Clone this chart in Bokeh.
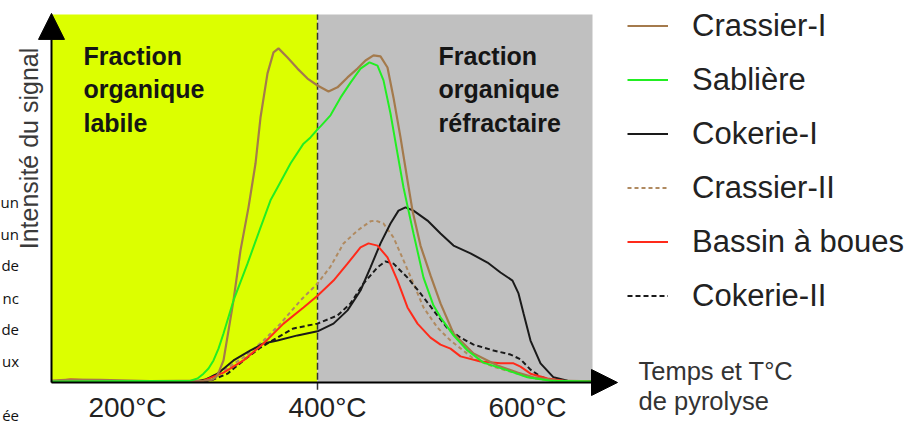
import math
from bokeh.plotting import figure
from bokeh.models import Range1d, Arrow, NormalHead, Legend, LegendItem
from bokeh.core.properties import value
from bokeh.embed import file_html
from bokeh.resources import INLINE

# ---------------- data (temperature °C, relative signal intensity 0-100) ----------------
T_START, T_SPLIT, T_END, I_TOP = 134, 400, 675, 100

crassier1_t = [134, 153, 183, 233, 288, 295, 299, 302, 306, 311, 316, 323, 331, 338, 343, 350, 356, 361,
               370, 380, 390, 400, 411, 420, 430, 440, 448, 456, 463, 470, 476, 483, 490, 495, 503, 513,
               523, 536, 556, 580, 600, 616, 640, 675]
crassier1_i = [0.5, 0.8, 0.7, 0.4, 0.5, 0.8, 1.6, 3.3, 6.0, 14.1, 22.3, 35.9, 47.6, 59.5, 72.0, 84.0, 89.7, 90.8,
               88.3, 85.3, 82.6, 80.7, 79.1, 80.2, 82.9, 85.3, 87.5, 88.9, 88.6, 85.6, 77.4, 66.6, 54.9, 46.7, 37.2, 29.1,
               21.5, 13.3, 7.9, 4.6, 2.7, 1.4, 0.5, 0.3]

sabliere_t = [134, 273, 280, 286, 291, 296, 301, 306, 316, 330, 343, 353, 360, 373, 386, 393, 400, 403, 413,
              423, 433, 443, 452, 460, 466, 473, 480, 486, 491, 496, 506, 516, 523, 536, 550, 566, 590, 610, 633, 675]
sabliere_i = [0.3, 0.5, 1.1, 2.4, 3.8, 6.0, 9.2, 13.3, 22.3, 32.3, 42.1, 49.5, 53.0, 59.5, 64.9, 66.6, 68.8, 69.6, 72.6,
              77.4, 81.5, 85.3, 87.0, 86.1, 82.1, 73.1, 62.2, 53.0, 46.7, 40.5, 28.5, 20.9, 17.7, 12.8, 8.7, 5.4, 3.3, 1.4, 0.5, 0.3]

cokerie1_t = [134, 278, 288, 300, 316, 333, 346, 360, 380, 400, 416, 430, 443, 453, 463, 473, 481, 488, 496,
              510, 523, 536, 553, 570, 583, 595, 601, 606, 613, 623, 636, 650, 675]
cokerie1_i = [0.3, 0.3, 0.8, 2.4, 6.0, 8.7, 10.6, 11.4, 12.8, 13.9, 16.0, 19.6, 25.0, 31.3, 37.8, 43.2, 46.7, 47.6, 46.7,
              44.0, 40.5, 37.2, 35.1, 32.6, 29.9, 27.7, 24.2, 18.8, 11.4, 5.2, 1.4, 0.5, 0.3]

crassier2_t = [134, 278, 286, 306, 326, 346, 363, 383, 400, 413, 426, 440, 453, 458, 466, 476, 486, 496, 506,
               520, 533, 556, 576, 596, 616, 643, 675]
crassier2_i = [0.3, 0.3, 0.5, 3.3, 6.8, 11.4, 16.0, 22.3, 26.9, 31.5, 37.8, 41.3, 43.8, 44.0, 43.2, 39.4, 33.2, 26.9, 20.4,
               14.9, 11.4, 6.5, 4.3, 2.7, 1.1, 0.3, 0.3]

bassin_t = [134, 153, 183, 278, 286, 306, 326, 346, 366, 386, 400, 416, 430, 443, 451, 460, 470, 480, 490, 500,
            513, 523, 533, 543, 563, 583, 596, 603, 613, 630, 646, 675]
bassin_i = [0.3, 0.8, 0.5, 0.3, 0.5, 2.7, 6.0, 10.6, 16.0, 20.4, 23.6, 27.7, 32.3, 36.7, 37.8, 37.2, 34.0, 27.7, 20.4, 16.0,
            12.2, 10.3, 9.2, 7.1, 5.7, 5.2, 5.2, 4.3, 2.4, 1.1, 0.5, 0.3]

cokerie2_t = [134, 283, 293, 310, 326, 343, 360, 376, 400, 420, 433, 446, 460, 468, 476, 490, 503, 516, 530,
              543, 556, 576, 593, 603, 613, 623, 636, 675]
cokerie2_i = [0.3, 0.3, 0.5, 2.4, 6.0, 9.5, 12.2, 14.7, 16.0, 18.2, 21.5, 26.9, 31.3, 32.9, 32.3, 28.5, 24.2, 19.6, 14.7,
              12.2, 10.3, 8.7, 7.6, 6.3, 3.5, 1.6, 0.5, 0.3]

series_names = ["Crassier-I", "Sablière", "Cokerie-I", "Crassier-II", "Bassin à boues", "Cokerie-II"]
tick_values = [200, 400, 600]
tick_labels = ["200°C", "400°C", "600°C"]
zone_labels = ["Fraction\norganique\nlabile", "Fraction\norganique\nréfractaire"]
y_title = "Intensité du signal"
x_title = "Temps et T°C\nde pyrolyse"
fragments = ["un", "un", "de", "nc", "de", "ux", "ée"]

# ---------------- figure: frame = whole canvas, 1 px = 1 °C, 3.68 px = 1 intensity unit ----------------
W, H = 907, 425
PX_Y = 3.68
BASE_PX = 382          # canvas row of intensity 0
X_OFF = 83             # temperature at canvas column 0


def iy(row):
    """canvas row -> intensity units (for placing annotation texts)"""
    return (BASE_PX - row) / PX_Y


p = figure(width=W, height=H, output_backend="svg", toolbar_location=None,
           x_range=Range1d(X_OFF, X_OFF + W), y_range=Range1d(iy(H), iy(0)),
           x_axis_type=None, y_axis_type=None,
           min_border_left=0, min_border_right=0, min_border_top=0, min_border_bottom=0)
p.outline_line_color = None
p.background_fill_color = "white"
p.border_fill_color = "white"

# zones
p.quad(left=[T_START], right=[T_SPLIT], bottom=[0], top=[I_TOP], fill_color="#DCFF00", line_color=None)
p.quad(left=[T_SPLIT], right=[T_END], bottom=[0], top=[I_TOP], fill_color="#C0C0C0", line_color=None)
p.segment(x0=[T_SPLIT], y0=[-2.0], x1=[T_SPLIT], y1=[I_TOP], line_color="#333333", line_width=1.5, line_dash="7 3")

SANS = value("Liberation Sans")

# curves
r_c2 = p.line(crassier2_t, crassier2_i, line_color="#B08A60", line_width=2, line_dash="4 3")
r_k2 = p.line(cokerie2_t, cokerie2_i, line_color="#1A1A1A", line_width=2, line_dash="5 3")
r_k1 = p.line(cokerie1_t, cokerie1_i, line_color="#1A1A1A", line_width=2)
r_b = p.line(bassin_t, bassin_i, line_color="#FF2A1A", line_width=2)
r_c1 = p.line(crassier1_t, crassier1_i, line_color="#A47A4C", line_width=2.2)
r_s = p.line(sabliere_t, sabliere_i, line_color="#22EE22", line_width=2)

# axes drawn as arrows
p.add_layout(Arrow(end=NormalHead(size=26, fill_color="black", line_color="black"),
                   x_start=T_START, y_start=0, x_end=700, y_end=0, line_width=2, line_color="black"))
p.add_layout(Arrow(end=NormalHead(size=26, fill_color="black", line_color="black"),
                   x_start=T_START, y_start=0, x_end=T_START, y_end=100.3, line_width=2, line_color="black"))

# texts
p.text(x=[166, 521], y=[iy(41)] * 2, text=zone_labels, text_font=SANS, text_font_style="bold",
       text_font_size="25px", text_align="left", text_baseline="top", text_line_height=1.2, text_color="#151515")
p.text(x=tick_values, y=[iy(391.5)] * 3, text=tick_labels, x_offset=10, text_font=SANS, text_font_size="28px",
       text_align="center", text_baseline="top", text_color="#222222")
p.text(x=[111], y=[iy(148)], text=[y_title], angle=math.pi / 2, text_font=SANS,
       text_font_size="25px", text_align="center", text_baseline="middle", text_color="#3A3A3A")
p.text(x=[721], y=[iy(356)], text=[x_title], text_font=SANS, text_font_size="25.5px",
       text_align="left", text_baseline="top", text_line_height=1.08, text_color="#333333")
frag_rows = [201, 233, 264, 297, 328, 360, 414]
p.text(x=[101.5] * len(fragments), y=[iy(r) for r in frag_rows], text=fragments,
       text_font=value("Open Sans"), text_font_size="15px", text_align="right", text_baseline="middle",
       text_color="#111111")

legend = Legend(items=[LegendItem(label=n, renderers=[r]) for n, r in
                       zip(series_names, [r_c1, r_s, r_k1, r_c2, r_b, r_k2])],
                location=(627, 111), orientation="vertical", glyph_width=41, glyph_height=37,
                label_standoff=24, spacing=17, padding=0, margin=0, border_line_color=None,
                background_fill_alpha=0, label_text_font="Liberation Sans", label_text_font_size="31px",
                label_text_color="#222222")
p.add_layout(legend)

open("out.html", "w").write(file_html(p, INLINE))
